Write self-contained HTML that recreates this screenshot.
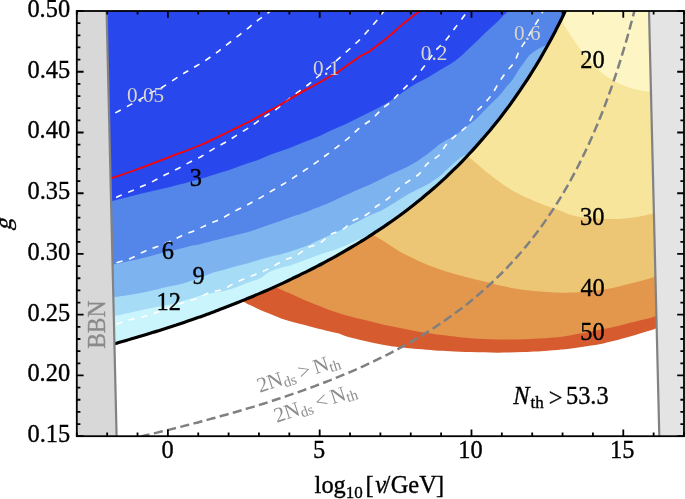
<!DOCTYPE html>
<html><head><meta charset="utf-8"><style>
html,body{margin:0;padding:0;background:#fff;width:685px;height:499px;overflow:hidden}
svg{display:block;will-change:transform}
text{font-family:"Liberation Serif",serif}
</style></head><body>
<svg width="685" height="499" viewBox="0 0 685 499">
<defs>
<clipPath id="cb"><path d="M0,0 L571.6,0 L571.6,-3.6 C570.3,-0.7 566.5,8.4 563.9,14.0 C561.2,19.7 558.4,25.1 555.7,30.4 C553.0,35.6 550.3,40.6 547.6,45.5 C544.9,50.4 542.2,55.1 539.6,59.6 C536.9,64.2 534.2,68.6 531.5,72.8 C528.9,77.1 526.2,81.2 523.5,85.2 C520.9,89.2 518.2,93.1 515.6,96.8 C512.9,100.6 510.3,104.3 507.7,107.8 C505.0,111.4 502.4,114.8 499.8,118.2 C497.1,121.5 494.5,124.8 491.9,128.0 C489.3,131.2 486.6,134.3 484.0,137.3 C481.4,140.3 478.9,143.2 476.3,146.1 C473.8,149.0 471.2,151.8 468.6,154.5 C466.1,157.3 463.5,159.9 460.9,162.6 C458.4,165.2 455.8,167.7 453.2,170.2 C450.7,172.7 448.1,175.2 445.6,177.6 C443.0,179.9 440.4,182.3 437.9,184.6 C435.3,186.9 432.7,189.1 430.2,191.3 C427.6,193.5 425.0,195.6 422.5,197.8 C419.9,199.9 417.3,201.9 414.8,204.0 C412.2,206.0 409.6,208.0 407.1,209.9 C404.5,211.9 402.0,213.8 399.4,215.7 C396.8,217.6 394.3,219.4 391.7,221.2 C389.1,223.0 386.6,224.8 384.0,226.6 C381.4,228.3 378.9,230.0 376.3,231.7 C373.7,233.4 371.2,235.1 368.6,236.7 C366.1,238.4 363.5,240.0 360.9,241.5 C358.4,243.1 355.8,244.7 353.2,246.2 C350.7,247.7 348.1,249.2 345.5,250.7 C343.0,252.2 340.4,253.7 337.8,255.1 C335.3,256.6 332.7,258.0 330.1,259.4 C327.6,260.8 325.0,262.1 322.5,263.5 C319.9,264.9 317.3,266.2 314.8,267.5 C312.2,268.8 309.6,270.1 307.1,271.4 C304.5,272.7 301.9,273.9 299.4,275.2 C296.8,276.4 294.3,277.7 291.7,278.9 C289.1,280.2 286.6,281.4 284.0,282.6 C281.4,283.8 278.9,284.9 276.3,286.1 C273.7,287.3 271.2,288.4 268.6,289.6 C266.0,290.7 263.5,291.8 260.9,292.9 C258.4,294.0 255.8,295.1 253.2,296.2 C250.7,297.3 248.1,298.3 245.5,299.4 C243.0,300.5 240.4,301.5 237.8,302.5 C235.3,303.6 232.7,304.6 230.1,305.6 C227.6,306.6 225.0,307.6 222.4,308.6 C219.9,309.6 217.3,310.5 214.8,311.5 C212.2,312.4 209.6,313.4 207.1,314.3 C204.5,315.3 201.9,316.2 199.4,317.1 C196.8,318.0 194.2,318.9 191.7,319.8 C189.1,320.7 186.6,321.5 184.0,322.4 C181.4,323.3 178.9,324.1 176.3,325.0 C173.7,325.8 171.2,326.7 168.6,327.5 C166.0,328.3 163.5,329.1 160.9,329.9 C158.3,330.8 155.8,331.5 153.2,332.3 C150.6,333.1 148.1,333.9 145.5,334.7 C143.0,335.5 140.4,336.2 137.8,337.0 C135.3,337.8 132.7,338.5 130.1,339.3 C127.6,340.0 125.0,340.8 122.4,341.5 C119.9,342.2 116.0,343.3 114.8,343.7 L0,343.7 Z"/></clipPath>
<clipPath id="co"><path d="M240.0,300.0 L237.8,302.5 C239.1,302.0 243.0,300.5 245.5,299.4 C248.1,298.3 250.7,297.3 253.2,296.2 C255.8,295.1 258.4,294.0 260.9,292.9 C263.5,291.8 266.0,290.7 268.6,289.6 C271.2,288.4 273.7,287.3 276.3,286.1 C278.9,284.9 281.4,283.8 284.0,282.6 C286.6,281.4 289.1,280.2 291.7,278.9 C294.3,277.7 296.8,276.4 299.4,275.2 C301.9,273.9 304.5,272.7 307.1,271.4 C309.6,270.1 312.2,268.8 314.8,267.5 C317.3,266.2 319.9,264.9 322.5,263.5 C325.0,262.1 327.6,260.8 330.1,259.4 C332.7,258.0 335.3,256.6 337.8,255.1 C340.4,253.7 343.0,252.2 345.5,250.7 C348.1,249.2 350.7,247.7 353.2,246.2 C355.8,244.7 358.4,243.1 360.9,241.5 C363.5,240.0 366.1,238.4 368.6,236.7 C371.2,235.1 373.7,233.4 376.3,231.7 C378.9,230.0 381.4,228.3 384.0,226.6 C386.6,224.8 389.1,223.0 391.7,221.2 C394.3,219.4 396.8,217.6 399.4,215.7 C402.0,213.8 404.5,211.9 407.1,209.9 C409.6,208.0 412.2,206.0 414.8,204.0 C417.3,201.9 419.9,199.9 422.5,197.8 C425.0,195.6 427.6,193.5 430.2,191.3 C432.7,189.1 435.3,186.9 437.9,184.6 C440.4,182.3 443.0,179.9 445.6,177.6 C448.1,175.2 450.7,172.7 453.2,170.2 C455.8,167.7 458.4,165.2 460.9,162.6 C463.5,159.9 466.1,157.3 468.6,154.5 C471.2,151.8 473.8,149.0 476.3,146.1 C478.9,143.2 481.4,140.3 484.0,137.3 C486.6,134.3 489.3,131.2 491.9,128.0 C494.5,124.8 497.1,121.5 499.8,118.2 C502.4,114.8 505.0,111.4 507.7,107.8 C510.3,104.3 512.9,100.6 515.6,96.8 C518.2,93.1 520.9,89.2 523.5,85.2 C526.2,81.2 528.9,77.1 531.5,72.8 C534.2,68.6 536.9,64.2 539.6,59.6 C542.2,55.1 544.9,50.4 547.6,45.5 C550.3,40.6 553.0,35.6 555.7,30.4 C558.4,25.1 561.2,19.7 563.9,14.0 C566.5,8.4 570.3,-0.7 571.6,-3.6 L700,0 L700,324.0 L668.0,324.0 C665.8,324.8 658.7,327.5 654.6,328.9 C650.5,330.3 647.8,331.0 643.3,332.4 C638.8,333.8 634.0,335.4 627.3,337.3 C620.6,339.2 610.2,342.0 603.2,343.5 C596.2,345.0 591.4,345.6 585.0,346.5 C578.6,347.4 570.8,348.6 565.0,349.2 C559.2,349.8 557.0,349.9 550.1,350.4 C543.2,350.9 532.5,351.7 523.8,352.1 C515.0,352.5 506.4,352.7 497.6,352.7 C488.9,352.7 479.2,352.4 471.3,352.1 C463.4,351.9 456.0,351.5 450.0,351.2 C444.0,350.9 440.5,350.9 435.1,350.5 C429.7,350.1 423.4,349.6 417.6,349.1 C411.8,348.6 405.9,348.0 400.1,347.3 C394.3,346.6 388.5,345.8 382.6,344.7 C376.8,343.6 370.9,342.3 365.0,341.0 C359.1,339.7 352.0,338.1 347.5,336.8 C343.0,335.5 341.6,334.4 338.0,333.3 C334.4,332.2 330.1,331.5 325.6,330.4 C321.1,329.3 315.9,327.9 311.0,326.7 C306.1,325.5 301.3,324.4 296.4,323.1 C291.5,321.8 286.7,320.4 281.8,318.7 C276.9,317.0 272.1,314.9 267.2,312.8 C262.3,310.7 256.5,308.1 252.6,306.3 C248.7,304.5 245.9,302.9 243.8,301.9 C241.7,300.8 240.6,300.3 240.0,300.0 Z"/></clipPath>
<clipPath id="cf"><rect x="76.8" y="11.0" width="607.2" height="425.2"/></clipPath>
</defs>
<g clip-path="url(#cf)">
<g clip-path="url(#cb)">
<rect x="0" y="0" width="700" height="500" fill="#caf5fc"/>
<path d="M104.0,317.0 C105.9,316.8 110.3,316.7 115.5,315.8 C120.7,314.9 128.4,312.9 135.0,311.5 C141.6,310.1 148.8,308.6 155.0,307.3 C161.2,306.1 166.2,305.4 172.0,304.0 C177.8,302.6 184.5,300.4 190.0,298.8 C195.5,297.2 199.3,295.5 205.0,294.2 C210.7,292.9 218.8,292.0 224.0,290.9 C229.2,289.8 232.1,288.7 236.1,287.3 C240.1,285.9 244.1,284.0 248.1,282.5 C252.1,281.0 256.5,280.0 260.1,278.2 C263.8,276.4 266.6,273.2 270.0,271.5 C273.4,269.8 276.9,269.0 280.2,268.0 C283.5,267.0 285.9,266.8 290.0,265.5 C294.1,264.2 300.0,261.8 305.0,260.0 C310.0,258.2 315.2,256.2 320.0,254.5 C324.8,252.8 329.3,251.7 334.0,250.0 C338.7,248.3 343.7,246.3 348.0,244.5 C352.3,242.7 356.0,240.5 360.0,239.0 C364.0,237.5 367.8,236.5 372.0,235.5 C376.2,234.5 381.2,233.6 385.0,233.0 C388.8,232.4 393.3,232.2 395.0,232.0 L700,232.0 L700,-5 L-5,-5 L-5,317.0 Z" fill="#a6dcf6"/>
<path d="M104.0,298.0 C105.8,297.9 109.6,297.8 114.8,297.1 C120.0,296.5 129.2,295.1 135.1,294.1 C141.0,293.1 145.1,292.2 150.1,291.1 C155.1,290.0 160.2,288.4 165.2,287.3 C170.2,286.2 175.2,285.6 180.2,284.3 C185.2,283.0 189.9,281.4 195.2,279.5 C200.5,277.6 207.2,274.6 212.0,273.0 C216.8,271.4 220.0,270.9 224.0,269.8 C228.0,268.7 232.1,267.3 236.1,266.2 C240.1,265.1 244.1,264.3 248.1,263.2 C252.1,262.1 256.5,260.7 260.1,259.6 C263.8,258.5 266.6,257.5 270.0,256.7 C273.4,255.9 276.8,255.4 280.2,254.6 C283.6,253.8 287.0,252.7 290.4,251.6 C293.8,250.5 297.3,249.3 300.7,248.0 C304.1,246.7 307.5,245.4 310.9,243.9 C314.3,242.4 317.7,240.6 321.1,239.0 C324.5,237.4 328.2,235.9 331.3,234.5 C334.4,233.1 336.9,232.0 340.0,230.5 C343.1,229.0 346.7,227.2 350.0,225.5 C353.3,223.8 356.7,222.2 360.0,220.5 C363.3,218.8 366.7,216.9 370.0,215.3 C373.3,213.8 376.7,212.8 380.0,211.2 C383.3,209.6 386.7,207.6 390.0,205.6 C393.3,203.6 396.7,201.3 400.0,199.2 C403.3,197.1 406.7,195.0 410.0,193.2 C413.3,191.4 416.7,190.0 420.0,188.3 C423.3,186.6 426.7,185.1 430.0,183.0 C433.3,180.9 437.0,178.4 440.0,176.0 C443.0,173.6 444.7,171.5 448.1,168.5 C451.5,165.5 456.8,160.6 460.2,158.0 C463.6,155.4 466.0,154.5 468.6,153.2 C471.2,151.9 473.3,150.9 476.0,150.0 C478.7,149.1 483.5,148.3 485.0,148.0 L700,148.0 L700,-5 L-5,-5 L-5,298.0 Z" fill="#7db4f0"/>
<path d="M104.0,266.0 C105.6,265.8 108.8,265.5 113.8,264.5 C118.8,263.5 128.4,261.4 134.2,260.1 C140.0,258.8 143.9,257.7 148.8,256.5 C153.7,255.3 158.5,254.0 163.4,252.8 C168.3,251.6 173.1,250.4 178.0,249.2 C182.9,248.0 188.9,246.3 192.6,245.5 C196.3,244.7 196.1,245.1 200.0,244.2 C203.9,243.3 210.8,241.4 216.1,240.1 C221.4,238.8 226.8,237.4 232.1,236.1 C237.4,234.8 242.8,233.7 248.2,232.1 C253.5,230.5 258.8,228.4 264.2,226.5 C269.6,224.6 274.9,222.8 280.3,220.9 C285.7,219.0 291.4,217.1 296.4,215.3 C301.3,213.6 306.1,211.9 310.0,210.4 C313.9,208.9 316.7,207.8 320.0,206.5 C323.3,205.2 326.7,203.9 330.0,202.5 C333.3,201.1 335.1,200.0 340.0,197.8 C344.9,195.6 353.9,191.6 359.6,189.1 C365.3,186.6 369.3,184.9 374.2,182.6 C379.1,180.3 383.9,177.6 388.8,175.3 C393.7,173.0 398.5,171.1 403.4,168.7 C408.3,166.3 413.1,163.8 418.0,160.7 C422.9,157.6 428.9,152.8 432.6,150.0 C436.3,147.2 437.3,145.9 440.0,144.0 C442.7,142.1 446.0,140.5 449.0,138.7 C452.0,136.9 455.0,135.4 458.0,133.3 C461.0,131.2 464.1,128.5 467.1,126.1 C470.1,123.7 473.1,121.6 476.1,118.9 C479.1,116.2 482.1,112.8 485.1,109.8 C488.1,106.8 491.6,103.3 494.1,100.8 C496.6,98.3 498.3,96.9 500.0,95.0 C501.7,93.1 502.2,92.2 504.4,89.4 C506.6,86.7 511.0,81.8 513.4,78.5 C515.8,75.2 517.1,72.2 518.9,69.5 C520.7,66.8 522.5,64.7 524.3,62.3 C526.1,59.9 527.6,57.2 529.7,55.1 C531.8,53.0 534.5,51.2 536.9,49.7 C539.3,48.2 541.6,47.2 544.1,46.1 C546.6,45.0 549.0,43.9 552.0,43.0 C555.0,42.1 560.3,41.3 562.0,41.0 L700,41.0 L700,-5 L-5,-5 L-5,266.0 Z" fill="#5486ea"/>
<path d="M104.0,203.0 C105.4,202.7 108.3,202.1 112.2,201.1 C116.1,200.1 122.0,198.6 127.5,197.2 C133.0,195.8 139.2,194.2 145.0,192.8 C150.8,191.4 156.7,190.2 162.6,188.8 C168.5,187.4 173.5,186.1 180.2,184.3 C186.9,182.5 196.7,179.9 202.7,178.2 C208.7,176.5 212.1,175.3 216.0,174.1 C219.9,172.9 222.2,172.4 226.2,171.1 C230.2,169.8 234.5,167.9 240.0,166.0 C245.5,164.1 253.6,161.5 259.2,159.4 C264.8,157.3 268.9,155.4 273.8,153.6 C278.7,151.8 283.5,150.3 288.4,148.5 C293.3,146.7 298.1,144.5 303.0,142.6 C307.9,140.7 313.1,138.7 317.6,136.8 C322.1,134.9 325.3,133.1 330.0,131.0 C334.7,128.9 340.7,126.6 346.0,124.1 C351.3,121.6 356.6,118.8 362.0,116.1 C367.4,113.4 372.8,111.0 378.1,108.1 C383.5,105.2 388.8,102.0 394.1,98.5 C399.4,95.0 404.8,90.5 410.1,87.2 C415.4,83.9 421.0,81.4 426.0,78.6 C431.0,75.8 435.2,73.0 440.0,70.1 C444.8,67.2 450.0,64.8 455.0,61.1 C460.0,57.4 465.1,52.3 470.1,47.6 C475.1,42.9 480.6,37.3 485.1,33.0 C489.6,28.7 493.8,25.2 497.1,22.0 C500.4,18.8 503.0,15.9 505.0,14.0 C507.0,12.1 507.8,11.8 509.1,10.5 C510.4,9.2 512.4,6.8 513.0,6.0 L700,6.0 L700,-5 L-5,-5 L-5,203.0 Z" fill="#2848ee"/>
</g>
<g clip-path="url(#co)">
<rect x="0" y="0" width="700" height="500" fill="#d65c30"/>
<path d="M274.0,286.0 C274.6,286.3 274.9,286.8 277.4,288.0 C279.9,289.2 284.7,291.2 289.1,293.1 C293.5,295.1 298.8,297.6 303.7,299.7 C308.6,301.8 313.9,303.8 318.3,305.5 C322.7,307.2 325.1,308.5 330.0,310.2 C334.9,311.9 341.7,314.1 347.5,315.8 C353.3,317.5 359.1,318.7 365.0,320.1 C370.9,321.6 376.8,323.2 382.6,324.5 C388.5,325.8 394.3,326.8 400.1,328.0 C405.9,329.2 411.8,330.5 417.6,331.5 C423.4,332.5 429.7,333.5 435.1,334.2 C440.5,334.9 444.0,335.2 450.0,335.9 C456.0,336.6 463.4,337.7 471.3,338.3 C479.2,338.9 488.9,339.4 497.6,339.5 C506.4,339.6 515.0,339.5 523.8,339.2 C532.5,338.9 542.2,338.5 550.1,337.8 C558.0,337.1 560.9,336.9 571.1,335.2 C581.3,333.5 601.8,329.5 611.2,327.6 C620.6,325.7 621.9,324.9 627.3,323.6 C632.6,322.3 638.8,320.8 643.3,319.6 C647.8,318.4 650.5,317.7 654.6,316.4 C658.7,315.1 665.8,312.7 668.0,312.0 L700,312.0 L700,-5 L200.0,-5 L200.0,286.0 Z" fill="#e3974c"/>
<path d="M370.0,233.0 C370.8,233.5 372.2,234.2 374.9,235.8 C377.6,237.4 382.1,240.2 386.3,242.8 C390.5,245.5 395.3,249.0 400.0,251.7 C404.7,254.4 409.7,256.7 414.6,259.0 C419.5,261.3 424.3,263.6 429.2,265.5 C434.1,267.4 438.9,269.1 443.8,270.7 C448.7,272.3 453.5,273.7 458.4,275.0 C463.3,276.3 468.1,277.5 473.0,278.7 C477.9,279.9 483.1,281.2 487.6,282.3 C492.1,283.4 495.4,284.5 500.0,285.5 C504.6,286.5 510.0,287.6 515.0,288.5 C520.0,289.4 525.0,290.0 530.0,290.6 C535.0,291.2 540.3,291.6 545.0,291.9 C549.7,292.2 553.6,292.3 558.0,292.4 C562.4,292.5 566.2,292.8 571.1,292.6 C576.0,292.5 580.4,292.2 587.1,291.5 C593.8,290.8 604.5,289.5 611.2,288.3 C617.9,287.1 621.9,285.6 627.3,284.3 C632.6,283.0 638.8,281.5 643.3,280.3 C647.8,279.1 650.5,278.2 654.6,277.0 C658.7,275.8 665.8,273.7 668.0,273.0 L700,273.0 L700,-5 L300.0,-5 L300.0,233.0 Z" fill="#ecc674"/>
<path d="M466.0,155.0 C466.5,155.4 467.4,156.2 468.8,157.3 C470.2,158.4 471.2,158.9 474.6,161.7 C478.0,164.5 484.3,170.2 489.2,174.1 C494.1,178.0 498.9,181.7 503.8,185.0 C508.7,188.3 513.5,191.2 518.4,193.8 C523.3,196.4 528.1,198.3 533.0,200.4 C537.9,202.5 543.1,204.5 547.6,206.2 C552.1,207.9 556.1,208.9 560.0,210.4 C563.9,211.9 566.6,213.6 571.1,214.9 C575.6,216.2 581.8,217.4 587.1,218.1 C592.5,218.8 597.9,218.9 603.2,219.0 C608.6,219.1 613.9,219.2 619.2,218.9 C624.6,218.6 629.9,218.1 635.3,217.3 C640.7,216.5 646.4,215.2 651.4,214.1 C656.4,213.0 662.7,211.5 665.0,211.0 L700,211.0 L700,-5 L400.0,-5 L400.0,155.0 Z" fill="#f7e59b"/>
<path d="M558.0,16.0 C558.5,16.5 560.0,17.0 561.3,19.0 C562.6,21.0 563.8,24.7 565.8,28.0 C567.8,31.3 570.3,35.0 573.0,38.9 C575.7,42.8 579.0,47.6 582.0,51.5 C585.0,55.4 588.1,59.0 591.1,62.3 C594.1,65.6 597.1,68.8 600.1,71.4 C603.1,74.0 606.2,75.8 609.2,77.7 C612.2,79.7 615.2,81.6 618.2,83.1 C621.2,84.6 624.2,85.7 627.2,86.7 C630.2,87.8 632.9,88.7 636.2,89.4 C639.5,90.2 642.3,90.7 647.1,91.2 C651.9,91.7 662.0,92.3 665.0,92.5 L700,92.5 L700,-5 L558.0,-5 Z" fill="#fdf6c4"/>
</g>
<path d="M104.0,119.0 C105.6,118.1 110.1,115.7 113.8,113.7 C117.5,111.7 121.9,109.3 126.0,107.1 C130.1,104.9 134.3,102.7 138.3,100.4 C142.3,98.1 146.0,95.5 150.0,93.3 C154.0,91.1 157.3,90.1 162.3,87.2 C167.3,84.3 174.9,78.9 179.8,75.8 C184.7,72.7 187.9,71.0 191.9,68.6 C195.9,66.2 200.0,63.9 203.9,61.4 C207.8,58.9 212.1,55.8 215.3,53.5 C218.5,51.2 220.1,49.8 223.3,47.4 C226.5,45.0 230.6,41.8 234.3,38.9 C238.0,36.0 241.8,33.1 245.5,30.2 C249.2,27.3 252.6,24.2 256.2,21.5 C259.8,18.8 264.2,15.9 266.8,13.9 C269.4,11.9 271.1,10.2 272.0,9.5" fill="none" stroke="#fff" stroke-width="1.6" stroke-dasharray="6.2,6.8"/>
<path d="M104.0,202.0 C105.8,201.3 111.0,199.5 114.8,198.0 C118.6,196.5 122.9,194.6 127.1,192.8 C131.3,191.0 135.9,189.0 140.2,187.1 C144.5,185.2 148.7,183.4 152.9,181.4 C157.1,179.4 161.1,176.9 165.2,174.8 C169.2,172.7 173.2,171.1 177.2,169.0 C181.2,166.9 185.3,164.5 189.4,162.4 C193.5,160.3 197.6,158.5 201.7,156.2 C205.8,153.9 209.8,151.0 213.9,148.6 C218.0,146.2 221.8,144.4 226.0,142.0 C230.2,139.6 234.4,136.7 238.8,133.9 C243.2,131.1 248.3,128.2 252.4,125.4 C256.5,122.6 259.8,119.8 263.6,117.3 C267.4,114.8 271.4,112.8 275.2,110.1 C278.9,107.4 282.5,104.2 286.1,101.3 C289.7,98.4 293.2,95.7 296.9,92.9 C300.6,90.1 305.0,87.2 308.5,84.5 C312.0,81.8 314.4,79.5 318.0,76.5 C321.6,73.5 326.4,69.6 330.0,66.5 C333.6,63.4 335.9,61.1 339.3,58.1 C342.7,55.1 346.6,51.6 350.1,48.5 C353.6,45.4 356.9,42.5 360.1,39.3 C363.3,36.1 366.3,32.6 369.3,29.2 C372.3,25.8 375.7,21.8 378.1,18.8 C380.6,15.8 382.7,12.8 384.0,11.0 C385.3,9.2 385.7,8.5 386.0,8.0" fill="none" stroke="#fff" stroke-width="1.6" stroke-dasharray="6.2,6.8"/>
<path d="M104.0,266.0 C105.9,265.5 110.9,264.3 115.2,263.1 C119.5,261.9 124.9,260.6 129.8,258.7 C134.7,256.8 140.0,253.3 144.4,251.4 C148.8,249.5 151.7,248.7 156.1,247.0 C160.5,245.3 166.3,243.1 170.7,241.2 C175.1,239.2 178.3,237.1 182.4,235.3 C186.5,233.5 191.2,232.1 195.5,230.2 C199.8,228.3 204.2,226.0 208.4,224.1 C212.6,222.2 216.8,220.9 220.9,218.9 C225.0,216.9 228.8,214.3 232.9,212.1 C237.1,209.9 241.7,207.7 245.8,205.6 C249.9,203.5 253.4,201.6 257.4,199.4 C261.3,197.2 265.5,194.5 269.5,192.2 C273.5,189.8 277.4,187.7 281.4,185.3 C285.3,182.9 289.4,180.4 293.2,177.9 C297.0,175.4 300.6,173.0 304.4,170.5 C308.1,168.0 312.0,165.4 315.7,162.8 C319.4,160.2 321.3,158.8 326.4,155.0 C331.4,151.2 340.3,144.6 346.0,140.0 C351.7,135.4 356.1,130.8 360.4,127.3 C364.7,123.8 368.2,122.2 371.7,119.3 C375.2,116.4 378.1,112.6 381.3,109.7 C384.5,106.8 387.7,104.6 390.9,101.7 C394.1,98.8 397.3,95.3 400.5,92.1 C403.7,88.9 406.9,85.8 410.1,82.4 C413.3,79.1 416.8,75.5 419.7,72.0 C422.6,68.5 425.2,65.2 427.8,61.6 C430.4,58.0 432.5,54.2 435.5,50.6 C438.5,47.0 442.8,43.8 446.0,40.0 C449.2,36.2 452.0,32.0 455.0,28.0 C458.0,24.0 461.8,19.0 464.0,16.0 C466.2,13.0 467.3,11.0 468.0,10.0" fill="none" stroke="#fff" stroke-width="1.6" stroke-dasharray="6.2,6.8"/>
<path d="M104.0,328.0 C106.2,327.4 112.8,325.4 117.0,324.1 C121.2,322.8 124.6,321.3 129.1,320.0 C133.6,318.7 139.3,317.8 144.1,316.5 C148.8,315.2 151.3,314.3 157.6,312.1 C163.9,309.9 175.2,305.4 181.7,303.1 C188.2,300.9 192.1,300.3 196.7,298.6 C201.3,296.9 205.0,294.2 209.3,292.7 C213.6,291.2 218.3,291.0 222.5,289.4 C226.7,287.8 230.5,285.1 234.6,283.1 C238.7,281.1 242.7,279.3 246.9,277.6 C251.1,275.9 255.7,274.6 259.8,272.8 C263.9,271.1 267.9,269.2 271.8,267.1 C275.8,265.1 279.4,262.4 283.5,260.5 C287.6,258.6 292.3,257.7 296.3,255.6 C300.3,253.5 303.5,249.9 307.5,247.8 C311.5,245.7 316.5,245.0 320.3,242.8 C324.1,240.6 326.7,236.8 330.5,234.5 C334.3,232.2 339.5,231.4 343.3,229.1 C347.1,226.8 349.5,222.8 353.3,220.5 C357.1,218.2 362.1,217.4 366.0,215.0 C369.9,212.6 373.3,208.7 377.0,206.0 C380.7,203.3 384.6,201.3 388.0,198.6 C391.4,195.9 393.9,192.6 397.2,189.8 C400.4,187.0 403.9,184.4 407.5,181.8 C411.1,179.2 415.6,177.2 419.0,174.1 C422.4,171.0 424.5,166.3 427.9,163.2 C431.2,160.0 436.0,158.3 439.1,155.2 C442.2,152.1 443.5,147.8 446.3,144.5 C449.1,141.2 452.8,138.2 456.2,135.1 C459.6,132.0 463.8,129.6 466.8,126.1 C469.8,122.6 471.2,117.6 474.0,114.0 C476.8,110.4 480.6,107.7 483.5,104.5 C486.4,101.3 489.1,98.3 491.5,95.0 C493.9,91.7 495.5,88.2 497.8,84.5 C500.1,80.8 502.8,76.5 505.5,72.8 C508.2,69.1 511.6,66.3 514.0,62.5 C516.4,58.7 517.5,54.1 519.6,50.2 C521.7,46.3 524.3,43.1 526.6,39.3 C528.9,35.5 531.1,31.5 533.5,27.5 C535.9,23.5 539.4,18.3 541.0,15.4 C542.6,12.5 542.7,10.9 543.0,10.0" fill="none" stroke="#fff" stroke-width="1.6" stroke-dasharray="6.2,6.8"/>
<path d="M104.0,181.0 C105.4,180.5 107.0,179.7 112.2,177.9 C117.4,176.1 125.8,173.5 135.4,170.0 C145.0,166.5 159.1,161.0 170.0,156.8 C180.9,152.6 190.7,149.3 200.7,145.0 C210.7,140.7 221.8,134.9 230.0,131.0 C238.2,127.0 244.0,124.4 250.0,121.3 C256.0,118.2 260.6,115.4 266.0,112.5 C271.4,109.6 276.8,106.8 282.1,103.7 C287.5,100.6 292.8,97.1 298.1,94.1 C303.4,91.1 308.7,88.4 314.0,85.5 C319.3,82.6 326.1,78.7 330.0,76.5 C333.9,74.3 332.6,75.6 337.3,72.5 C342.0,69.4 352.7,61.3 358.1,57.7 C363.6,54.1 366.3,53.3 370.0,50.9 C373.7,48.5 376.8,45.9 380.2,43.3 C383.6,40.7 387.0,38.0 390.4,35.1 C393.8,32.2 397.3,28.8 400.7,25.9 C404.1,23.0 407.8,20.1 410.9,17.7 C413.9,15.3 417.0,13.2 419.0,11.6 C421.0,10.0 422.3,8.6 423.0,8.0" fill="none" stroke="#ff0000" stroke-width="1.8"/>
<path d="M114.8,343.7 C116.0,343.3 119.9,342.2 122.4,341.5 C125.0,340.8 127.6,340.0 130.1,339.3 C132.7,338.5 135.3,337.8 137.8,337.0 C140.4,336.2 143.0,335.5 145.5,334.7 C148.1,333.9 150.6,333.1 153.2,332.3 C155.8,331.5 158.3,330.8 160.9,329.9 C163.5,329.1 166.0,328.3 168.6,327.5 C171.2,326.7 173.7,325.8 176.3,325.0 C178.9,324.1 181.4,323.3 184.0,322.4 C186.6,321.5 189.1,320.7 191.7,319.8 C194.2,318.9 196.8,318.0 199.4,317.1 C201.9,316.2 204.5,315.3 207.1,314.3 C209.6,313.4 212.2,312.4 214.8,311.5 C217.3,310.5 219.9,309.6 222.4,308.6 C225.0,307.6 227.6,306.6 230.1,305.6 C232.7,304.6 235.3,303.6 237.8,302.5 C240.4,301.5 243.0,300.5 245.5,299.4 C248.1,298.3 250.7,297.3 253.2,296.2 C255.8,295.1 258.4,294.0 260.9,292.9 C263.5,291.8 266.0,290.7 268.6,289.6 C271.2,288.4 273.7,287.3 276.3,286.1 C278.9,284.9 281.4,283.8 284.0,282.6 C286.6,281.4 289.1,280.2 291.7,278.9 C294.3,277.7 296.8,276.4 299.4,275.2 C301.9,273.9 304.5,272.7 307.1,271.4 C309.6,270.1 312.2,268.8 314.8,267.5 C317.3,266.2 319.9,264.9 322.5,263.5 C325.0,262.1 327.6,260.8 330.1,259.4 C332.7,258.0 335.3,256.6 337.8,255.1 C340.4,253.7 343.0,252.2 345.5,250.7 C348.1,249.2 350.7,247.7 353.2,246.2 C355.8,244.7 358.4,243.1 360.9,241.5 C363.5,240.0 366.1,238.4 368.6,236.7 C371.2,235.1 373.7,233.4 376.3,231.7 C378.9,230.0 381.4,228.3 384.0,226.6 C386.6,224.8 389.1,223.0 391.7,221.2 C394.3,219.4 396.8,217.6 399.4,215.7 C402.0,213.8 404.5,211.9 407.1,209.9 C409.6,208.0 412.2,206.0 414.8,204.0 C417.3,201.9 419.9,199.9 422.5,197.8 C425.0,195.6 427.6,193.5 430.2,191.3 C432.7,189.1 435.3,186.9 437.9,184.6 C440.4,182.3 443.0,179.9 445.6,177.6 C448.1,175.2 450.7,172.7 453.2,170.2 C455.8,167.7 458.4,165.2 460.9,162.6 C463.5,159.9 466.1,157.3 468.6,154.5 C471.2,151.8 473.8,149.0 476.3,146.1 C478.9,143.2 481.4,140.3 484.0,137.3 C486.6,134.3 489.3,131.2 491.9,128.0 C494.5,124.8 497.1,121.5 499.8,118.2 C502.4,114.8 505.0,111.4 507.7,107.8 C510.3,104.3 512.9,100.6 515.6,96.8 C518.2,93.1 520.9,89.2 523.5,85.2 C526.2,81.2 528.9,77.1 531.5,72.8 C534.2,68.6 536.9,64.2 539.6,59.6 C542.2,55.1 544.9,50.4 547.6,45.5 C550.3,40.6 553.0,35.6 555.7,30.4 C558.4,25.1 561.2,19.7 563.9,14.0 C566.5,8.4 570.3,-0.7 571.6,-3.6" fill="none" stroke="#000" stroke-width="3.2"/>
<path d="M140.6,436.5 C141.8,436.2 145.4,435.4 147.8,434.8 C150.2,434.2 152.7,433.7 155.1,433.1 C157.5,432.5 159.9,431.9 162.3,431.3 C164.8,430.7 167.2,430.2 169.6,429.6 C172.0,429.0 174.4,428.4 176.9,427.8 C179.3,427.2 181.7,426.5 184.1,425.9 C186.5,425.3 189.0,424.7 191.4,424.1 C193.8,423.5 196.2,422.8 198.6,422.2 C201.1,421.6 203.5,420.9 205.9,420.3 C208.3,419.6 210.7,419.0 213.2,418.3 C215.6,417.7 218.0,417.0 220.4,416.3 C222.8,415.6 225.3,415.0 227.7,414.3 C230.1,413.6 232.5,412.9 234.9,412.2 C237.4,411.5 239.8,410.8 242.2,410.1 C244.6,409.4 247.0,408.7 249.5,407.9 C251.9,407.2 254.3,406.5 256.7,405.7 C259.1,405.0 261.6,404.2 264.0,403.5 C266.4,402.7 268.8,402.0 271.2,401.2 C273.7,400.4 276.1,399.6 278.5,398.8 C280.9,398.0 283.3,397.2 285.8,396.4 C288.2,395.6 290.6,394.8 293.0,393.9 C295.4,393.1 297.9,392.3 300.3,391.4 C302.7,390.5 305.1,389.7 307.5,388.8 C310.0,387.9 312.4,387.0 314.8,386.1 C317.2,385.2 319.6,384.3 322.1,383.4 C324.5,382.5 326.9,381.5 329.3,380.6 C331.7,379.6 334.2,378.6 336.6,377.6 C339.0,376.7 341.4,375.7 343.8,374.7 C346.3,373.6 348.7,372.6 351.1,371.6 C353.5,370.5 355.9,369.5 358.4,368.4 C360.8,367.3 363.2,366.2 365.6,365.1 C368.0,364.0 370.5,362.9 372.9,361.7 C375.3,360.6 377.7,359.4 380.1,358.2 C382.6,357.0 385.0,355.8 387.4,354.6 C389.8,353.3 392.2,352.1 394.7,350.8 C397.1,349.5 399.5,348.3 401.9,346.9 C404.3,345.6 406.8,344.3 409.2,342.9 C411.6,341.5 414.0,340.1 416.4,338.7 C418.9,337.3 421.3,335.8 423.7,334.3 C426.1,332.8 428.5,331.3 431.0,329.8 C433.4,328.2 435.8,326.7 438.2,325.0 C440.6,323.4 443.1,321.8 445.5,320.1 C447.9,318.4 450.3,316.7 452.7,314.9 C455.2,313.2 457.6,311.4 460.0,309.6 C462.4,307.7 464.8,305.9 467.3,303.9 C469.7,302.0 472.1,300.0 474.5,298.0 C476.9,296.0 479.4,293.9 481.8,291.8 C484.2,289.7 486.6,287.6 489.0,285.3 C491.5,283.1 493.9,280.8 496.3,278.5 C498.7,276.1 501.1,273.7 503.6,271.3 C506.0,268.8 508.4,266.3 510.8,263.7 C513.2,261.1 515.7,258.4 518.1,255.6 C520.5,252.9 522.9,250.0 525.3,247.1 C527.8,244.2 530.2,241.2 532.6,238.1 C535.0,235.0 537.4,231.8 539.9,228.5 C542.3,225.2 544.7,221.8 547.1,218.3 C549.5,214.8 552.0,211.2 554.4,207.4 C556.8,203.6 559.2,199.8 561.6,195.8 C564.1,191.7 566.5,187.6 568.9,183.3 C571.3,179.0 573.7,174.5 576.2,169.9 C578.6,165.2 581.0,160.5 583.4,155.4 C585.8,150.4 588.3,145.3 590.7,139.8 C593.1,134.4 595.5,128.8 597.9,123.0 C600.4,117.1 602.8,111.0 605.2,104.6 C607.6,98.2 610.0,91.5 612.5,84.5 C614.9,77.5 617.3,70.2 619.7,62.5 C622.1,54.8 624.6,46.8 627.0,38.3 C629.4,29.8 631.8,21.0 634.2,11.6 C636.7,2.1 640.3,-13.2 641.5,-18.2" fill="none" stroke="#808080" stroke-width="2.5" stroke-dasharray="9.2,4.4"/>
<path d="M0,0 L106.3,0 L118.1,500 L0,500 Z" fill="#d8d8d8"/>
<line x1="106.6" y1="11.0" x2="116.6" y2="436.2" stroke="#828282" stroke-width="2.2"/>
<path d="M700,0 L648.7,0 L660.8,500 L700,500 Z" fill="#e4e4e4"/>
<line x1="649.0" y1="11.0" x2="659.3" y2="436.2" stroke="#828282" stroke-width="2.2"/>
</g>
<rect x="76.8" y="11.0" width="607.2" height="425.2" fill="none" stroke="#000" stroke-width="1.8"/>
<path d="M76.80,11.0 v3.6 M76.80,436.2 v-3.6 M107.16,11.0 v3.6 M107.16,436.2 v-3.6 M137.52,11.0 v3.6 M137.52,436.2 v-3.6 M167.88,11.0 v6.8 M167.88,436.2 v-6.8 M198.24,11.0 v3.6 M198.24,436.2 v-3.6 M228.60,11.0 v3.6 M228.60,436.2 v-3.6 M258.96,11.0 v3.6 M258.96,436.2 v-3.6 M289.32,11.0 v3.6 M289.32,436.2 v-3.6 M319.68,11.0 v6.8 M319.68,436.2 v-6.8 M350.04,11.0 v3.6 M350.04,436.2 v-3.6 M380.40,11.0 v3.6 M380.40,436.2 v-3.6 M410.76,11.0 v3.6 M410.76,436.2 v-3.6 M441.12,11.0 v3.6 M441.12,436.2 v-3.6 M471.48,11.0 v6.8 M471.48,436.2 v-6.8 M501.84,11.0 v3.6 M501.84,436.2 v-3.6 M532.20,11.0 v3.6 M532.20,436.2 v-3.6 M562.56,11.0 v3.6 M562.56,436.2 v-3.6 M592.92,11.0 v3.6 M592.92,436.2 v-3.6 M623.28,11.0 v6.8 M623.28,436.2 v-6.8 M653.64,11.0 v3.6 M653.64,436.2 v-3.6 M684.00,11.0 v3.6 M684.00,436.2 v-3.6 M76.8,436.20 h6.8 M684.0,436.20 h-6.8 M76.8,424.05 h3.6 M684.0,424.05 h-3.6 M76.8,411.90 h3.6 M684.0,411.90 h-3.6 M76.8,399.75 h3.6 M684.0,399.75 h-3.6 M76.8,387.61 h3.6 M684.0,387.61 h-3.6 M76.8,375.46 h6.8 M684.0,375.46 h-6.8 M76.8,363.31 h3.6 M684.0,363.31 h-3.6 M76.8,351.16 h3.6 M684.0,351.16 h-3.6 M76.8,339.01 h3.6 M684.0,339.01 h-3.6 M76.8,326.86 h3.6 M684.0,326.86 h-3.6 M76.8,314.71 h6.8 M684.0,314.71 h-6.8 M76.8,302.57 h3.6 M684.0,302.57 h-3.6 M76.8,290.42 h3.6 M684.0,290.42 h-3.6 M76.8,278.27 h3.6 M684.0,278.27 h-3.6 M76.8,266.12 h3.6 M684.0,266.12 h-3.6 M76.8,253.97 h6.8 M684.0,253.97 h-6.8 M76.8,241.82 h3.6 M684.0,241.82 h-3.6 M76.8,229.67 h3.6 M684.0,229.67 h-3.6 M76.8,217.53 h3.6 M684.0,217.53 h-3.6 M76.8,205.38 h3.6 M684.0,205.38 h-3.6 M76.8,193.23 h6.8 M684.0,193.23 h-6.8 M76.8,181.08 h3.6 M684.0,181.08 h-3.6 M76.8,168.93 h3.6 M684.0,168.93 h-3.6 M76.8,156.78 h3.6 M684.0,156.78 h-3.6 M76.8,144.63 h3.6 M684.0,144.63 h-3.6 M76.8,132.49 h6.8 M684.0,132.49 h-6.8 M76.8,120.34 h3.6 M684.0,120.34 h-3.6 M76.8,108.19 h3.6 M684.0,108.19 h-3.6 M76.8,96.04 h3.6 M684.0,96.04 h-3.6 M76.8,83.89 h3.6 M684.0,83.89 h-3.6 M76.8,71.74 h6.8 M684.0,71.74 h-6.8 M76.8,59.59 h3.6 M684.0,59.59 h-3.6 M76.8,47.45 h3.6 M684.0,47.45 h-3.6 M76.8,35.30 h3.6 M684.0,35.30 h-3.6 M76.8,23.15 h3.6 M684.0,23.15 h-3.6 M76.8,11.00 h6.8 M684.0,11.00 h-6.8" stroke="#000" stroke-width="1.8" fill="none"/>
<text x="27.45" y="442.00" style="font-size:24.40px;fill:#000;stroke:#000;stroke-width:0.35px">0.15</text>
<text x="27.43" y="381.26" style="font-size:24.40px;fill:#000;stroke:#000;stroke-width:0.35px">0.20</text>
<text x="27.45" y="320.51" style="font-size:24.40px;fill:#000;stroke:#000;stroke-width:0.35px">0.25</text>
<text x="27.43" y="259.77" style="font-size:24.40px;fill:#000;stroke:#000;stroke-width:0.35px">0.30</text>
<text x="27.45" y="199.03" style="font-size:24.40px;fill:#000;stroke:#000;stroke-width:0.35px">0.35</text>
<text x="27.43" y="138.29" style="font-size:24.40px;fill:#000;stroke:#000;stroke-width:0.35px">0.40</text>
<text x="27.45" y="77.54" style="font-size:24.40px;fill:#000;stroke:#000;stroke-width:0.35px">0.45</text>
<text x="27.43" y="16.80" style="font-size:24.40px;fill:#000;stroke:#000;stroke-width:0.35px">0.50</text>
<text x="161.38" y="458.40" style="font-size:24.40px;fill:#000;stroke:#000;stroke-width:0.35px">0</text>
<text x="312.95" y="458.40" style="font-size:24.40px;fill:#000;stroke:#000;stroke-width:0.35px">5</text>
<text x="458.27" y="458.40" style="font-size:24.40px;fill:#000;stroke:#000;stroke-width:0.35px">10</text>
<text x="610.08" y="458.40" style="font-size:24.40px;fill:#000;stroke:#000;stroke-width:0.35px">15</text>
<text x="189.69" y="185.60" style="font-size:24.40px;fill:#000;stroke:#000;stroke-width:0.35px">3</text>
<text x="161.74" y="258.50" style="font-size:24.40px;fill:#000;stroke:#000;stroke-width:0.35px">6</text>
<text x="192.41" y="284.00" style="font-size:24.40px;fill:#000;stroke:#000;stroke-width:0.35px">9</text>
<text x="156.50" y="309.50" style="font-size:24.40px;fill:#000;stroke:#000;stroke-width:0.35px">12</text>
<text x="580.23" y="68.00" style="font-size:24.40px;fill:#000;stroke:#000;stroke-width:0.35px">20</text>
<text x="580.08" y="224.80" style="font-size:24.40px;fill:#000;stroke:#000;stroke-width:0.35px">30</text>
<text x="580.43" y="296.10" style="font-size:24.40px;fill:#000;stroke:#000;stroke-width:0.35px">40</text>
<text x="580.36" y="339.50" style="font-size:24.40px;fill:#000;stroke:#000;stroke-width:0.35px">50</text>
<text x="126.99" y="101.90" style="font-size:21.20px;fill:#d8d5cc;stroke:#d8d5cc;stroke-width:0.00px">0.05</text>
<text x="312.99" y="75.30" style="font-size:21.20px;fill:#d8d5cc;stroke:#d8d5cc;stroke-width:0.00px">0.1</text>
<text x="420.79" y="60.40" style="font-size:21.20px;fill:#d8d5cc;stroke:#d8d5cc;stroke-width:0.00px">0.2</text>
<text x="514.09" y="40.00" style="font-size:21.20px;fill:#d8d5cc;stroke:#d8d5cc;stroke-width:0.00px">0.6</text>
<g transform="translate(105.3,348.2) rotate(-90) scale(1,1.06)"><text x="-0.68" y="0.00" style="font-size:23.60px;fill:#8a8a8a;stroke:#8a8a8a;stroke-width:0.35px">BBN</text></g>
<g transform="translate(10.9,229.6) rotate(-90) skewX(-14)"><text x="-1.01" y="0.00" style="font-size:23.50px;fill:#000;stroke:#000;stroke-width:0.35px">g</text></g>
<text x="314.61" y="492.50" style="font-size:24.40px;fill:#000;stroke:#000;stroke-width:0.35px">log</text>
<text x="345.81" y="498.30" style="font-size:17.00px;fill:#000;stroke:#000;stroke-width:0.35px">10</text>
<text x="365.39" y="492.50" style="font-size:24.40px;fill:#000;stroke:#000;stroke-width:0.35px">[</text>
<text x="375.17" y="492.50" style="font-size:24.40px;fill:#000;stroke:#000;stroke-width:0.35px;font-style:italic">v</text>
<text x="383.60" y="492.50" style="font-size:24.40px;fill:#000;stroke:#000;stroke-width:0.35px">/</text>
<text x="390.70" y="492.50" style="font-size:24.40px;fill:#000;stroke:#000;stroke-width:0.35px">GeV</text>
<text x="436.12" y="492.50" style="font-size:24.40px;fill:#000;stroke:#000;stroke-width:0.35px">]</text>
<text x="513.28" y="404.20" style="font-size:24.40px;fill:#000;stroke:#000;stroke-width:0.35px;font-style:italic">N</text>
<text x="530.53" y="408.00" style="font-size:17.00px;fill:#000;stroke:#000;stroke-width:0.35px">th</text>
<text x="548.76" y="405.50" style="font-size:24.40px;fill:#000;stroke:#000;stroke-width:0.35px">&gt;</text>
<text x="565.98" y="404.20" style="font-size:24.40px;fill:#000;stroke:#000;stroke-width:0.35px">53.3</text>
<g transform="translate(259.8,392.8) rotate(-18.3)"><text x="0" y="0" style="font-size:21.2px;fill:#8c8c8c">2N<tspan style="font-size:14.8px" dy="3">ds</tspan><tspan dy="-3" dx="-1.2"> &gt;</tspan><tspan dx="-1.6"> N</tspan><tspan style="font-size:14.8px" dy="3">th</tspan></text></g>
<g transform="translate(276.8,422.8) rotate(-18.3)"><text x="0" y="0" style="font-size:21.2px;fill:#8c8c8c">2N<tspan style="font-size:14.8px" dy="3">ds</tspan><tspan dy="-3" dx="-1.2"> &lt;</tspan><tspan dx="-1.6"> N</tspan><tspan style="font-size:14.8px" dy="3">th</tspan></text></g>
</svg>
</body></html>
